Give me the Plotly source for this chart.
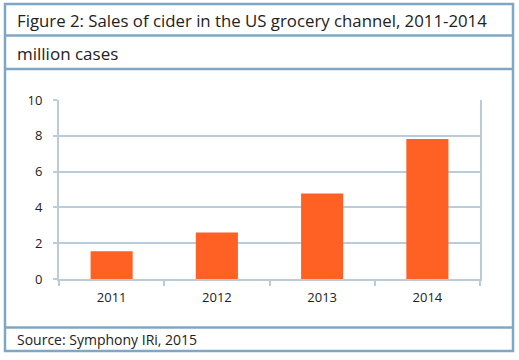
import plotly.graph_objects as go

years = ["2011", "2012", "2013", "2014"]
sales = [1.55, 2.6, 4.78, 7.82]
y_ticks = [0, 2, 4, 6, 8, 10]

W, H = 519, 360
L, R, T, B = 59, 480, 100, 279


def px(x):
    return (x - L) / (R - L)


def py(y):
    return (B - y) / (B - T)


fig = go.Figure(go.Bar(
    x=years, y=sales, width=0.4,
    marker=dict(color="#ff6124", line=dict(width=0)),
    hoverinfo="skip",
))

grid = "#b9ccdc"
border = "#7fa7c5"

fig.update_layout(
    width=W, height=H,
    margin=dict(l=L, r=W - R, t=T, b=H - B),
    paper_bgcolor="white", plot_bgcolor="white",
    showlegend=False,
    font=dict(family="Open Sans", color="#222222"),
    xaxis=dict(
        showline=True, linecolor=grid, linewidth=2,
        ticks="outside", tickson="boundaries", ticklen=5, tickcolor=grid, tickwidth=2,
        tickfont=dict(size=13, color="#222222"),
        ticklabelstandoff=5,
        showgrid=False,
    ),
    yaxis=dict(
        range=[0, 10], tickvals=y_ticks,
        showline=True, mirror=True, linecolor=grid, linewidth=2,
        ticks="outside", ticklen=4, tickcolor=grid, tickwidth=2,
        showgrid=True, gridcolor=grid, gridwidth=2,
        zeroline=False,
        tickfont=dict(size=13, color="#222222"),
        ticklabelstandoff=8,
    ),
)

shapes = []
# outer border
shapes.append(dict(type="rect", xref="paper", yref="paper",
                   x0=px(5), x1=px(513), y0=py(4), y1=py(351),
                   line=dict(color=border, width=2.5)))
for yy in [35.5, 69, 327.5]:
    shapes.append(dict(type="line", xref="paper", yref="paper",
                       x0=px(5), x1=px(513), y0=py(yy), y1=py(yy),
                       line=dict(color=border, width=2.5)))
fig.update_layout(shapes=shapes)

anns = [
    ("Figure 2: Sales of cider in the US grocery channel, 2011-2014", 20, 16.8),
    ("million cases", 53, 17),
    ("Source: Symphony IRi, 2015", 339.5, 14),
]
for text, yc, size in anns:
    fig.add_annotation(text=text, xref="paper", yref="paper",
                       x=px(15), y=py(yc), xanchor="left", yanchor="middle",
                       showarrow=False, font=dict(size=size, color="#222222"))

fig.write_html("out.html", config={"displayModeBar": False},
               post_script="document.body.style.margin='0';")
